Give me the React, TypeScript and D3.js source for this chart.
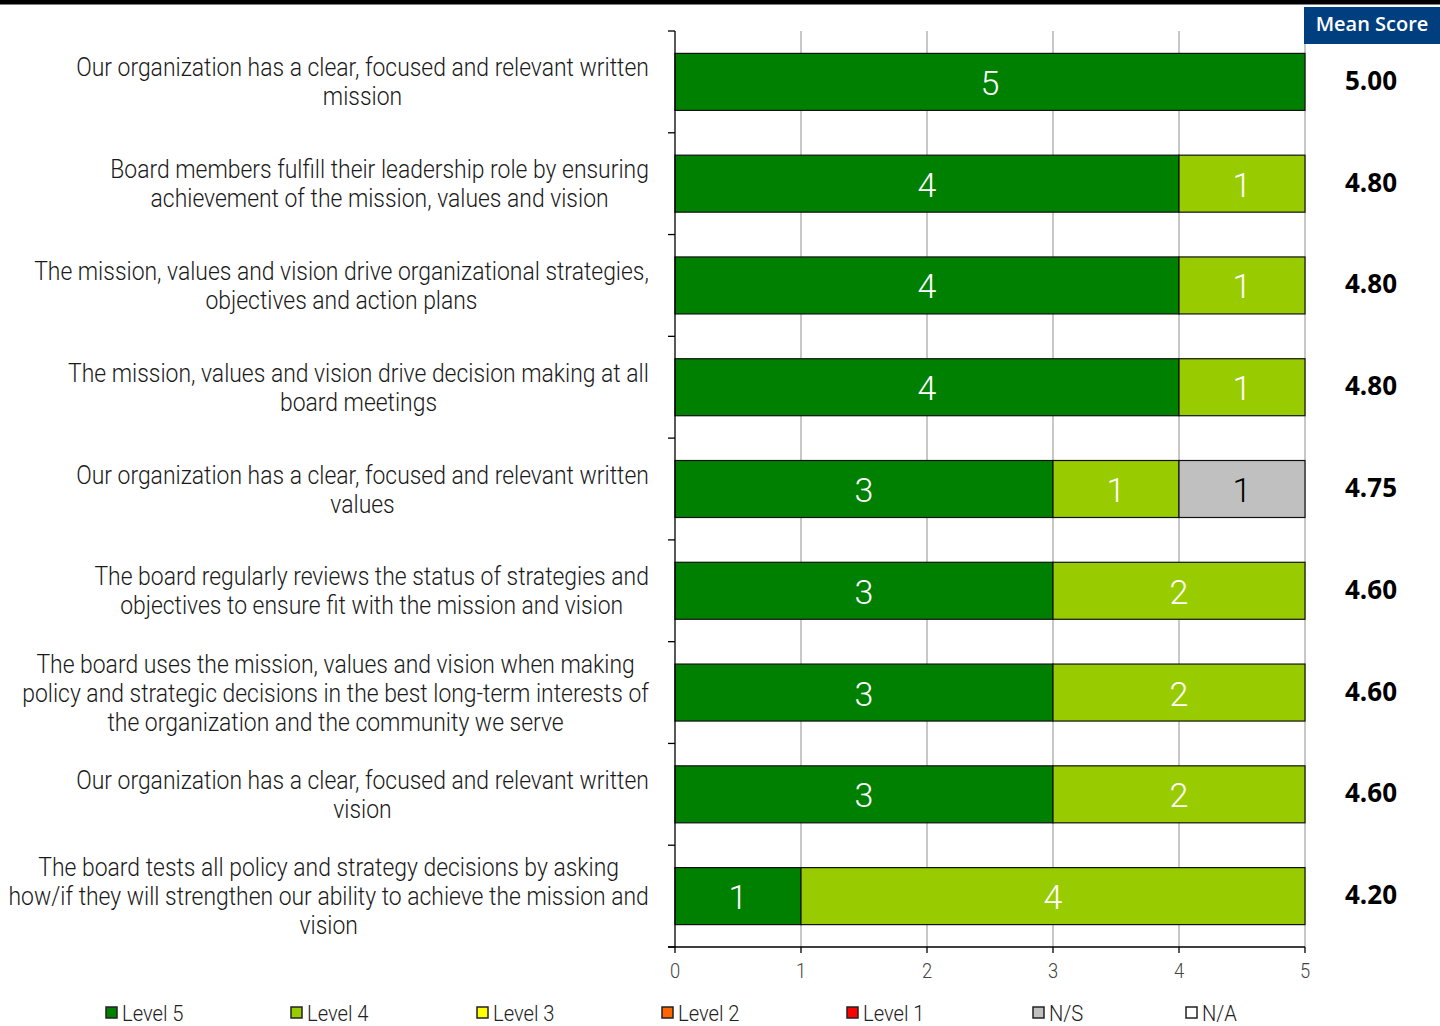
import React, { useEffect, useRef } from "react";
import * as d3 from "d3";

const categories: string[][] = [
  ["Our organization has a clear, focused and relevant written", "mission"],
  ["Board members fulfill their leadership role by ensuring", "achievement of the mission, values and vision"],
  ["The mission, values and vision drive organizational strategies,", "objectives and action plans"],
  ["The mission, values and vision drive decision making at all", "board meetings"],
  ["Our organization has a clear, focused and relevant written", "values"],
  ["The board regularly reviews the status of strategies and", "objectives to ensure fit with the mission and vision"],
  ["The board uses the mission, values and vision when making", "policy and strategic decisions in the best long-term interests of", "the organization and the community we serve"],
  ["Our organization has a clear, focused and relevant written", "vision"],
  ["The board tests all policy and strategy decisions by asking", "how/if they will strengthen our ability to achieve the mission and", "vision"],
];

const seriesNames = ["Level 5", "Level 4", "Level 3", "Level 2", "Level 1", "N/S", "N/A"];
const level5 = [5, 4, 4, 4, 3, 3, 3, 3, 1];
const level4 = [0, 1, 1, 1, 1, 2, 2, 2, 4];
const level3 = [0, 0, 0, 0, 0, 0, 0, 0, 0];
const level2 = [0, 0, 0, 0, 0, 0, 0, 0, 0];
const level1 = [0, 0, 0, 0, 0, 0, 0, 0, 0];
const levelNS = [0, 0, 0, 0, 1, 0, 0, 0, 0];
const levelNA = [0, 0, 0, 0, 0, 0, 0, 0, 0];
const meanScores = ["5.00", "4.80", "4.80", "4.80", "4.75", "4.60", "4.60", "4.60", "4.20"];
const xTicks = [0, 1, 2, 3, 4, 5];
const meanHeader = "Mean Score";

const colors = ["#008000", "#99cc00", "#ffff00", "#ff6600", "#ff0000", "#c0c0c0", "#ffffff"];
const labelColors = ["#ffffff", "#ffffff", "#000000", "#ffffff", "#ffffff", "#000000", "#000000"];
const legendX = [106, 291, 477, 662, 847, 1033, 1186];

const LIGHT = "Roboto, sans-serif";
const LABEL_SIZE = 25;
const TARGET_FIRST_LINE = 573; // reference width of the first label line

export default function App() {
  const ref = useRef<SVGSVGElement | null>(null);

  useEffect(() => {
    document.body.style.margin = "0";
    const svg = d3.select(ref.current);
    svg.selectAll("*").remove();

    const W = 1440, H = 1026;
    const x = d3.scaleLinear().domain([0, 5]).range([675, 1305]);
    const y = d3.scaleBand<number>().domain(d3.range(categories.length)).range([31, 947]).paddingInner(0.44).paddingOuter(0.22);

    svg.append("rect").attr("x", 0).attr("y", 0).attr("width", W).attr("height", H).attr("fill", "#fff");
    svg.append("rect").attr("x", 0).attr("y", 0).attr("width", W).attr("height", 4.5).attr("fill", "#000");

    const probe = svg.append("text").attr("font-family", LIGHT).attr("font-weight", 300).attr("font-size", LABEL_SIZE)
      .text(categories[0][0]);
    const natural = (probe.node() as SVGTextElement).getComputedTextLength() || TARGET_FIRST_LINE;
    probe.remove();
    const k = TARGET_FIRST_LINE / natural;

    const condText = (g: any, px: number, py: number, size: number, anchor: string, fill: string, txt: string) =>
      g.append("text")
        .attr("transform", `translate(${px},${py}) scale(${k},1)`)
        .attr("text-anchor", anchor)
        .attr("font-family", LIGHT).attr("font-weight", 300)
        .attr("font-size", size).attr("fill", fill)
        .text(txt);

    // gridlines
    svg.append("g").selectAll("line").data(xTicks.slice(1)).join("line")
      .attr("x1", (d) => x(d)).attr("x2", (d) => x(d))
      .attr("y1", 31).attr("y2", 947)
      .attr("stroke", "#909090").attr("stroke-width", 1);

    // stacked bars
    const series = [level5, level4, level3, level2, level1, levelNS, levelNA];
    const gBars = svg.append("g");
    categories.forEach((_, i) => {
      let acc = 0;
      series.forEach((s, kk) => {
        const v = s[i];
        if (!v) return;
        const x0 = x(acc), x1 = x(acc + v);
        gBars.append("rect")
          .attr("x", x0).attr("y", y(i)!)
          .attr("width", x1 - x0).attr("height", y.bandwidth())
          .attr("fill", colors[kk]).attr("stroke", "#111").attr("stroke-width", 1.2);
        gBars.append("text")
          .attr("x", (x0 + x1) / 2).attr("y", y(i)! + y.bandwidth() / 2 + 13)
          .attr("text-anchor", "middle")
          .attr("font-family", "Roboto, sans-serif").attr("font-weight", 300)
          .attr("font-size", 34).attr("fill", labelColors[kk])
          .text(String(v));
        acc += v;
      });
    });

    // axes
    const gAxis = svg.append("g").attr("stroke", "#000").attr("stroke-width", 1.3);
    gAxis.append("line").attr("x1", 675).attr("x2", 675).attr("y1", 31).attr("y2", 947);
    const bounds = d3.range(categories.length + 1).map((i) => 31 + i * y.step());
    gAxis.selectAll("line.yt").data(bounds).join("line").attr("class", "yt")
      .attr("x1", 668).attr("x2", 675).attr("y1", (d) => d).attr("y2", (d) => d);
    gAxis.append("line").attr("x1", 668).attr("x2", 1305).attr("y1", 947).attr("y2", 947);
    gAxis.selectAll("line.xt").data(xTicks).join("line").attr("class", "xt")
      .attr("x1", (d) => x(d)).attr("x2", (d) => x(d)).attr("y1", 947).attr("y2", 953);

    const gx = svg.append("g");
    xTicks.forEach((d) => condText(gx, x(d), 978, 20, "middle", "#444", String(d)));

    // category labels
    const lineH = 29;
    categories.forEach((lines, i) => {
      const cy = y(i)! + y.bandwidth() / 2;
      const g = svg.append("g");
      const widths = lines.map((ln) => {
        const t = g.append("text").attr("font-family", LIGHT).attr("font-weight", 300).attr("font-size", LABEL_SIZE).text(ln);
        const w = (t.node() as SVGTextElement).getComputedTextLength() * k;
        t.remove();
        return w;
      });
      const maxW = d3.max(widths) || 0;
      const cx = 649 - maxW / 2;
      lines.forEach((ln, j) =>
        condText(g, cx, cy + (j - (lines.length - 1) / 2) * lineH + 9, LABEL_SIZE, "middle", "#1a1a1a", ln)
      );
    });

    // mean score header + values
    svg.append("rect").attr("x", 1304).attr("y", 7).attr("width", 136).attr("height", 37).attr("fill", "#003f7f");
    svg.append("text").attr("x", 1372).attr("y", 31).attr("text-anchor", "middle")
      .attr("font-family", "'Open Sans', sans-serif").attr("font-weight", 600).attr("font-size", 20).attr("fill", "#fff")
      .text(meanHeader);
    svg.append("g").selectAll("text").data(meanScores).join("text")
      .attr("x", 1371).attr("y", (_, i) => y(i)! + y.bandwidth() / 2 + 8)
      .attr("text-anchor", "middle")
      .attr("font-family", "'Open Sans', sans-serif").attr("font-weight", 700).attr("font-size", 26).attr("fill", "#000")
      .text((d) => d);

    // legend
    const gl = svg.append("g");
    seriesNames.forEach((name, kk) => {
      gl.append("rect").attr("x", legendX[kk]).attr("y", 1007).attr("width", 11).attr("height", 11)
        .attr("fill", colors[kk]).attr("stroke", "#222").attr("stroke-width", 1.5);
      condText(gl, legendX[kk] + 16, 1021, 22, "start", "#222", name);
    });
  }, []);

  return <svg ref={ref} width={1440} height={1026} style={{ display: "block" }} />;
}
